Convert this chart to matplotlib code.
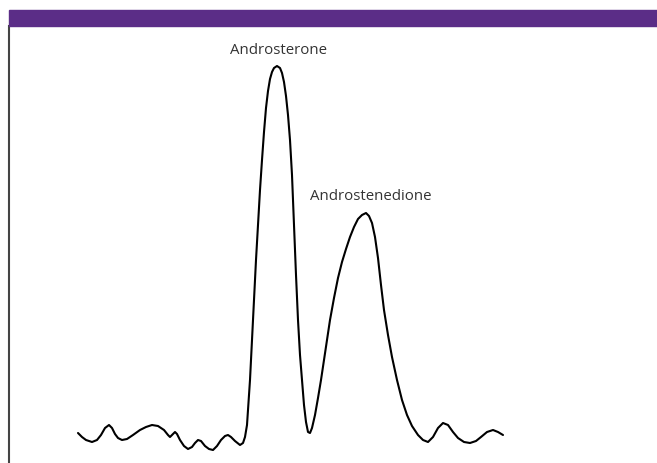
import matplotlib
matplotlib.use('Agg')
import numpy as np
import matplotlib.pyplot as plt
from matplotlib.patches import Rectangle

# Chromatogram trace (retention time, detector signal)
time_min = [
    1.38, 1.46, 1.54, 1.66, 1.76, 1.84, 1.92, 2.00, 2.06, 2.12, 2.18, 2.26,
    2.36, 2.48, 2.62, 2.74, 2.86, 2.98, 3.10, 3.18, 3.22, 3.26, 3.32, 3.36,
    3.42, 3.50, 3.58, 3.66, 3.72, 3.78, 3.84, 3.92, 4.00, 4.08, 4.16, 4.24,
    4.32, 4.38, 4.44, 4.52, 4.62, 4.68, 4.72, 4.76, 4.78,
    4.82, 4.86, 4.90, 4.94, 4.98, 5.02, 5.06, 5.10, 5.14, 5.18, 5.22, 5.26,
    5.30, 5.36, 5.42, 5.46, 5.50, 5.54, 5.58, 5.62, 5.66, 5.70, 5.74, 5.78,
    5.82, 5.86, 5.90, 5.94, 5.98, 6.02, 6.06, 6.12, 6.18, 6.24, 6.30, 6.36,
    6.42, 6.50, 6.58, 6.66, 6.74, 6.82, 6.90, 6.98, 7.06, 7.14, 7.20, 7.26,
    7.32, 7.38, 7.44, 7.50, 7.58, 7.66, 7.76, 7.86, 7.96, 8.06, 8.18, 8.28,
    8.38, 8.48, 8.58, 8.68, 8.78, 8.88, 8.98, 9.10, 9.22, 9.34, 9.44, 9.56,
    9.68, 9.78, 9.88,
]
signal = [
    30, 26, 23, 21, 23, 28, 35, 38, 35, 29, 25, 23,
    24, 28, 33, 36, 38, 37, 33, 28, 26, 28, 31, 29,
    23, 17, 14, 16, 20, 23, 22, 17, 14, 13, 17, 23,
    27, 28, 26, 22, 18, 20, 26, 38, 53,
    83, 123, 163, 203, 238, 273, 303, 331, 355, 372, 384, 391,
    395, 397, 395, 390, 381, 367, 348, 323, 288, 238, 188, 143,
    108, 83, 58, 41, 31, 30, 35, 48, 65, 83, 103, 123,
    143, 165, 185, 201, 214, 226, 236, 244, 248, 250, 247, 240,
    226, 205, 178, 153, 128, 106, 83, 63, 48, 37, 28, 23,
    21, 26, 35, 40, 38, 31, 25, 21, 20, 22, 26, 31,
    33, 31, 28,
]

peak_labels = ['Androsterone', 'Androstenedione']
peak_times = [5.36, 7.14]
peak_heights = [397, 250]
label_offsets = [(2, 15), (5, 16)]

W, H = 657, 463
fig = plt.figure(figsize=(W / 100, H / 100), dpi=100)

# purple header band
fig.patches.append(Rectangle((9 / W, 1 - 26 / H), 1 - 9 / W, 16 / H,
                             transform=fig.transFigure, color='#5b2d87',
                             zorder=0))

ax = fig.add_axes([9 / W, 0, 1 - 9 / W, 1 - 26 / H])
ax.plot(time_min, signal, color='black', linewidth=1.5,
        solid_capstyle='round', solid_joinstyle='round')

for name, t, h, off in zip(peak_labels, peak_times, peak_heights, label_offsets):
    ax.annotate(name, (t, h), xytext=off, textcoords='offset pixels',
                ha='center', va='center', fontsize=10.8, color='#333333',
                family='Open Sans')

ax.set_xlim(0, 12.96)
ax.set_ylim(0, 437)
for side in ['top', 'right', 'bottom']:
    ax.spines[side].set_visible(False)
ax.spines['left'].set_color('#444444')
ax.spines['left'].set_linewidth(1.5)
ax.set_xticks([])
ax.set_yticks([])

fig.savefig('out.png', dpi=100)
